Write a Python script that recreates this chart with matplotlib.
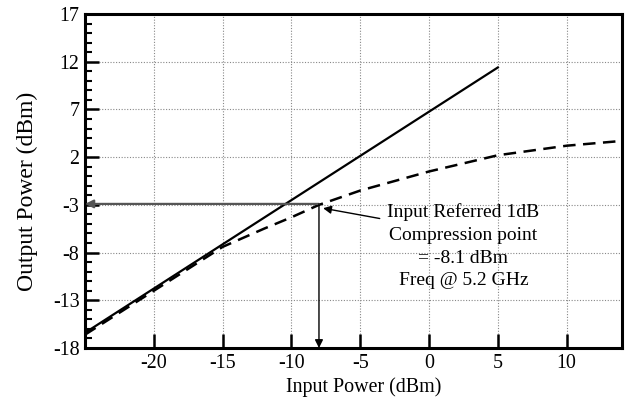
import matplotlib
matplotlib.use('Agg')
import matplotlib.pyplot as plt
import numpy as np

# ideal (linear) gain line
lin_in = [-25, 5]
lin_out = [-16.4, 11.4]

# measured output power, showing compression
meas_in = [-25, -20, -15, -12, -10, -8, -5, 0, 5, 10, 14]
meas_out = [-16.6, -12.0, -7.4, -5.5, -4.3, -3.0, -1.5, 0.5, 2.2, 3.2, 3.7]

p1db_in = -8.0
p1db_out = -2.9

x_ticks = [-20, -15, -10, -5, 0, 5, 10]
y_ticks = [-18, -13, -8, -3, 2, 7, 12, 17]

note = 'Input Referred 1dB\nCompression point\n= -8.1 dBm\nFreq @ 5.2 GHz'


def main():
    plt.rcParams['font.family'] = 'Liberation Serif'
    plt.rcParams['axes.unicode_minus'] = False
    fig = plt.figure(figsize=(6.28, 3.97), dpi=100)
    ax = fig.add_axes([0.1354, 0.1234, 0.8546, 0.8413])

    ax.plot(lin_in, lin_out, color='black', lw=1.6)
    ax.plot(meas_in, meas_out, color='black', lw=1.8, ls=(0, (5, 3)))

    # arrows from the 1 dB point to both axes
    ax.annotate('', xy=(-25, p1db_out), xytext=(p1db_in, p1db_out),
                arrowprops=dict(arrowstyle='-|>', color='#555555', lw=1.6,
                                mutation_scale=12, shrinkA=0, shrinkB=0))
    ax.annotate('', xy=(p1db_in, -18), xytext=(p1db_in, p1db_out),
                arrowprops=dict(arrowstyle='-|>', color='black', lw=1.0,
                                mutation_scale=12, shrinkA=0, shrinkB=0))
    ax.annotate(note, xy=(-7.7, -3.35), xytext=(2.5, -2.8),
                ha='center', va='top', fontsize=14, linespacing=1.45,
                arrowprops=dict(arrowstyle='-|>', color='black', lw=1.0,
                                mutation_scale=12, shrinkA=0, shrinkB=0,
                                relpos=(-0.05, 0.82)))

    ax.set_xlim(-25, 14)
    ax.set_ylim(-18, 17)
    ax.set_xticks(x_ticks)
    ax.set_yticks(y_ticks)
    ax.set_yticks(np.arange(-18, 18, 1), minor=True)
    ax.tick_params(axis='both', which='major', direction='in', length=10,
                   width=1.8, labelsize=14.4, pad=4)
    ax.tick_params(axis='y', which='minor', direction='in', length=5, width=1.5)
    ax.grid(True, which='major', color='#888888', ls=(0, (1, 1.5)), lw=0.8)

    for s in ax.spines.values():
        s.set_linewidth(2.2)

    ax.set_xlabel('Input Power (dBm)', fontsize=14.4)
    ax.xaxis.set_label_coords(0.52, -0.088)
    ax.set_ylabel('Output Power (dBm)', fontsize=17)
    ax.yaxis.set_label_coords(-0.088, 0.47)

    fig.savefig('out.png', dpi=100)


if __name__ == '__main__':
    main()
